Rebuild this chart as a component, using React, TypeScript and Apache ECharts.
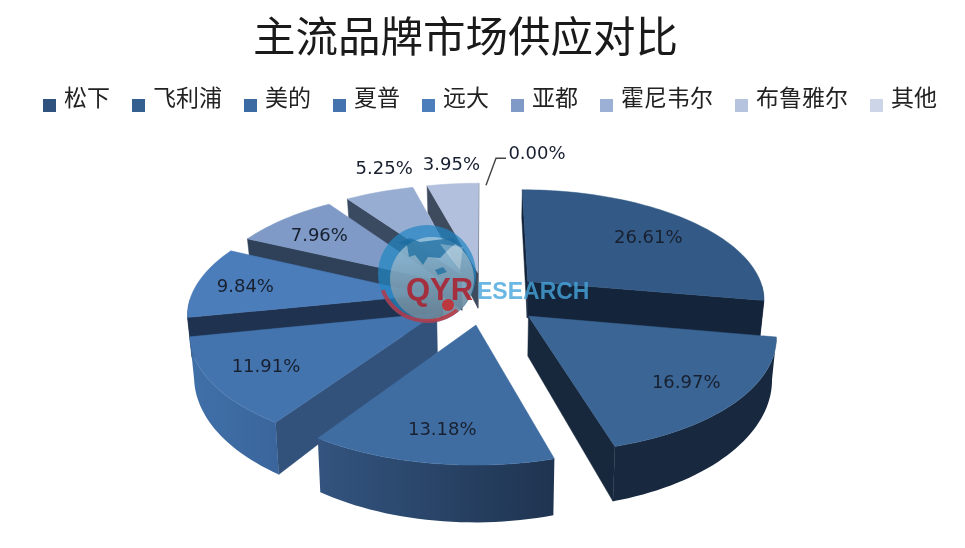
import React, { useEffect, useRef } from "react";
import * as echarts from "echarts";

const brands = ["松下", "飞利浦", "美的", "夏普", "远大", "亚都", "霍尼韦尔", "布鲁雅尔", "其他"];
const shares = [26.61, 16.97, 13.18, 11.91, 9.84, 7.96, 5.25, 3.95, 0.0];
const titleText = "主流品牌市场供应对比";

const topColors = ["#335A86", "#3A6594", "#3F6DA2", "#4474AE", "#4B7DBA", "#7F9AC6", "#98ADD2", "#B2C0DD", "#CDD6E8"];
const cutColors = ["#14243A", "#17283D", "#2A4568", "#32527B", "#1F3350", "#2F4059", "#3A4A60", "#3E4A5E", "#CDD6E8"];
const wallLeft = ["#14243A", "#18293F", "#33547F", "#4070A8", "#1F3350", "#3A5680", "#4A6490", "#6A80A8", "#CDD6E8"];
const wallRight = ["#14243A", "#18293F", "#1F3450", "#3A659C", "#1F3350", "#3A5680", "#4A6490", "#6A80A8", "#CDD6E8"];
const legendColors = ["#2F527F", "#34608F", "#3C6BA3", "#4473AE", "#4C7EBC", "#7F9AC6", "#9BB0D4", "#B5C3DE", "#CDD6E8"];
// Painter's order of the slices: the ones further back are drawn first
const sliceZ = [5, 6, 8, 7, 4, 3, 2, 1, 0];

// Layout of the tilted pie
const CX = 485, CY = 298, RX = 238, RY = 110, PERSP = 0.15, DEPTH = 38, EXPLODE = 0.24, FOOT = 0.985;
const labelRadius = [0.7, 0.8, 0.8, 0.75, 0.78, 0.75, 1.3, 1.3, 1.4];
const labelNudgeX = [6, -4, 2, -6, -3, -2, 26, 5, 52];
const labelNudgeY = [-1, -2, -3, 1, 1, 1, -3, 2, -1];

const total = shares.reduce((a, b) => a + b, 0);
const cumulative = shares.reduce<number[]>((acc, v) => {
  acc.push((acc.length ? acc[acc.length - 1] : 0) + v);
  return acc;
}, []);

function project(X: number, Y: number, bottom: boolean): number[] {
  const s = 1 / (1 - PERSP * Y);
  return bottom
    ? [CX + RX * X * s * FOOT, CY + RY * Y * s + DEPTH * s * s]
    : [CX + RX * X * s, CY + RY * Y * s];
}

function renderSlice(index: number, value: number) {
  const a0 = ((cumulative[index] - shares[index]) / total) * 2 * Math.PI;
  const a1 = (cumulative[index] / total) * 2 * Math.PI;
  const mid = (a0 + a1) / 2;
  const ox = Math.sin(mid) * EXPLODE;
  const oy = -Math.cos(mid) * EXPLODE;
  const rim = (t: number, r = 1) => [ox + Math.sin(t) * r, oy - Math.cos(t) * r];
  const pt = (t: number, r: number, bottom: boolean) => {
    const m = rim(t, r);
    return project(m[0], m[1], bottom);
  };
  const children: any[] = [];
  if (value > 0) {
    const steps = Math.max(4, Math.ceil((a1 - a0) / 0.03));
    const ts: number[] = [];
    for (let k = 0; k <= steps; k++) ts.push(a0 + ((a1 - a0) * k) / steps);

    // Radial cut faces
    const inner = pt(mid, 0.5, false);
    [a0, a1].forEach((edge) => {
      const p = pt(edge, 0, false);
      const q = pt(edge, 1, false);
      const ex = q[0] - p[0];
      const ey = q[1] - p[1];
      const crossInner = ex * (inner[1] - p[1]) - ey * (inner[0] - p[0]);
      if (crossInner * ex < 0) {
        children.push({
          type: "polygon",
          shape: { points: [p, q, pt(edge, 1, true), pt(edge, 0, true)] },
          style: { fill: cutColors[index], stroke: cutColors[index], lineWidth: 0.5 },
        });
      }
    });

    // Outer wall, the part that faces the viewer
    const front = ts.filter((t) => t >= Math.PI / 2 && t <= (3 * Math.PI) / 2);
    if (front.length > 1) {
      const upper = front.map((t) => pt(t, 1, false));
      const lower = front.map((t) => pt(t, 1, true)).reverse();
      children.push({
        type: "polygon",
        shape: { points: upper.concat(lower) },
        style: {
          fill: new echarts.graphic.LinearGradient(0, 0, 1, 0, [
            { offset: 0, color: wallLeft[index] },
            { offset: 1, color: wallRight[index] },
          ]),
        },
      });
    }

    // Top face
    children.push({
      type: "polygon",
      shape: { points: [pt(0, 0, false)].concat(ts.map((t) => pt(t, 1, false))) },
      style: { fill: topColors[index], stroke: topColors[index], lineWidth: 0.5 },
    });
  }

  // Percent label
  const anchor = pt(mid, labelRadius[index], false);
  const lx = anchor[0] + labelNudgeX[index];
  const ly = anchor[1] + labelNudgeY[index];
  children.push({
    type: "text",
    z2: 10,
    style: {
      text: value.toFixed(2) + "%",
      x: lx,
      y: ly,
      align: "center",
      verticalAlign: "middle",
      fontFamily: "DejaVu Sans",
      fontSize: 18,
      fill: "#182030",
    },
  });
  if (value === 0) {
    children.push({
      type: "polyline",
      shape: { points: [[lx - 51, ly + 33], [lx - 41, ly + 6], [lx - 31, ly + 6]] },
      style: { stroke: "#444444", lineWidth: 1.4, fill: "none" },
    });
  }
  return { type: "group", children };
}

const land: number[][][] = [
  [[397, 243], [407, 245], [409, 257], [415, 255], [423, 265], [428, 257], [440, 258], [450, 248], [458, 242], [452, 238], [436, 240], [420, 242], [410, 238]],
  [[435, 270], [443, 267], [447, 272], [438, 275]],
];

const watermark: any[] = [
  { type: "circle", shape: { cx: 427, cy: 274, r: 49 }, style: { fill: "rgba(35,135,195,0.72)" } },
  {
    type: "circle",
    shape: { cx: 432, cy: 279, r: 42 },
    style: {
      fill: new echarts.graphic.LinearGradient(0, 0, 0, 1, [
        { offset: 0, color: "rgba(175,208,226,0.7)" },
        { offset: 1, color: "rgba(120,130,140,0.75)" },
      ]),
    },
  },
  ...land.map((points) => ({ type: "polygon", shape: { points }, style: { fill: "rgba(30,110,160,0.75)" } })),
  { type: "polygon", shape: { points: [[440, 244], [463, 247], [460, 270]] }, style: { fill: "rgba(255,255,255,0.28)" } },
  {
    type: "arc",
    shape: { cx: 427, cy: 274, r: 47, startAngle: (50 * Math.PI) / 180, endAngle: (160 * Math.PI) / 180 },
    style: { stroke: "rgba(200,45,55,0.75)", lineWidth: 4, fill: "none" },
  },
  { type: "circle", shape: { cx: 448, cy: 305, r: 6 }, style: { fill: "rgba(195,45,50,0.9)" } },
  {
    type: "text",
    style: { text: "QYR", x: 406, y: 289, verticalAlign: "middle", fontFamily: "Liberation Sans", fontWeight: "bold", fontSize: 31, fill: "rgba(170,35,50,0.9)" },
  },
  {
    type: "text",
    style: { text: "ESEARCH", x: 477, y: 291, verticalAlign: "middle", fontFamily: "Liberation Sans", fontWeight: "bold", fontSize: 23, fill: "rgba(70,165,220,0.8)" },
  },
];

export default function App() {
  const ref = useRef<HTMLDivElement>(null);
  useEffect(() => {
    const chart = echarts.init(ref.current!, undefined, { renderer: "svg" });
    chart.setOption({
      animation: false,
      backgroundColor: "#ffffff",
      title: {
        text: titleText,
        left: 248,
        top: 7,
        textStyle: { fontFamily: "Noto Sans CJK SC", fontSize: 42.5, fontWeight: "normal", color: "#1A1A1A" },
      },
      legend: {
        left: 38,
        top: 79,
        icon: "rect",
        itemWidth: 13,
        itemHeight: 13,
        itemGap: 22,
        data: brands,
        formatter: "{a|{name}}",
        textStyle: {
          fontFamily: "Noto Sans CJK SC",
          color: "#222222",
          rich: { a: { fontFamily: "Noto Sans CJK SC", fontSize: 23, color: "#222222", padding: [0, 0, 20, 3] } },
        },
      },
      series: brands.map((name, i) => ({
        type: "custom",
        name,
        coordinateSystem: "none",
        z: 2 + sliceZ[i],
        silent: true,
        itemStyle: { color: legendColors[i] },
        data: [[shares[i]]],
        renderItem: (_params: any, api: any) => renderSlice(i, api.value(0)),
      })),
      graphic: { elements: watermark.map((e) => ({ ...e, z: 100, silent: true })) },
    });
    return () => chart.dispose();
  }, []);
  return (
    <div
      ref={ref}
      style={{ position: "absolute", left: 0, top: 0, width: 965, height: 548, filter: "blur(0.6px)" }}
    />
  );
}
